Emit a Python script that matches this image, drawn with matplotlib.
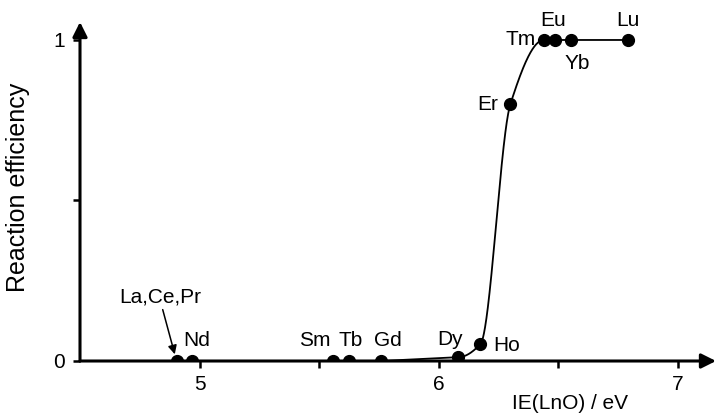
import matplotlib
matplotlib.use("Agg")
from matplotlib import pyplot as plt
import numpy as np

plt.rcParams['font.family'] = ['Liberation Sans', 'DejaVu Sans']

# data
ie = [4.904, 4.97, 5.558, 5.625, 5.758, 6.083, 6.175, 6.30, 6.44, 6.487, 6.555, 6.79]
eff = [0.0, 0.0, 0.0, 0.0, 0.0, 0.012, 0.053, 0.80, 1.0, 1.0, 1.0, 1.0]
names = ['La,Ce,Pr', 'Nd', 'Sm', 'Tb', 'Gd', 'Dy', 'Ho', 'Er', 'Tm', 'Eu', 'Yb', 'Lu']
# label offsets in points (dx, dy)
offsets = [(-12, 46), (3, 15), (-13, 15), (1, 15), (5, 15), (-6, 13), (19, -1),
           (-16, 0), (-16.5, 0), (-1.5, 14), (4, -17), (0, 14)]

# smooth monotone line through the points (Fritsch-Carlson)
def pchip(x, y, xs):
    x = np.asarray(x); y = np.asarray(y)
    h = np.diff(x)
    d = np.diff(y) / h
    m = np.zeros_like(y)
    for k in range(1, len(x) - 1):
        if d[k - 1] * d[k] > 0:
            w1 = 2 * h[k] + h[k - 1]
            w2 = h[k] + 2 * h[k - 1]
            m[k] = (w1 + w2) / (w1 / d[k - 1] + w2 / d[k])
    out = np.empty_like(xs)
    for i, v in enumerate(xs):
        k = min(np.searchsorted(x, v, side='right') - 1, len(x) - 2)
        t = (v - x[k]) / h[k]
        h00 = 2 * t**3 - 3 * t**2 + 1
        h10 = t**3 - 2 * t**2 + t
        h01 = -2 * t**3 + 3 * t**2
        h11 = t**3 - t**2
        out[i] = h00 * y[k] + h10 * h[k] * m[k] + h01 * y[k + 1] + h11 * h[k] * m[k + 1]
    return out

fig = plt.figure(figsize=(7.16, 4.13), dpi=100)
ax = fig.add_axes([80 / 716, 52 / 413, 636 / 716, 339 / 413])
ax.set_xlim(4.5, 7.16)
ax.set_ylim(0, 1.056)

# flat part along the axis, then the smooth rise from Dy on
ax.plot(ie[:6], eff[:6], color='black', lw=1.3, zorder=3)
xs = np.linspace(ie[5], ie[-1], 600)
ax.plot(xs, pchip(ie[5:], eff[5:], xs), color='black', lw=1.3, zorder=3)
ax.plot(ie, eff, 'o', color='black', ms=8.5, zorder=4)

for n, x, y, (dx, dy) in zip(names, ie, eff, offsets):
    ax.annotate(n, xy=(x, y), xytext=(dx, dy), textcoords='offset points',
                ha='center', va='center', fontsize=15)
# arrow to La, Ce, Pr
ax.annotate('', xy=(ie[0], eff[0]), xytext=(-10, 37), textcoords='offset points',
            arrowprops=dict(arrowstyle='-|>', color='black', lw=1.1,
                            shrinkA=0, shrinkB=5, mutation_scale=13))

# axes with arrow heads
for s in ax.spines.values():
    s.set_visible(False)
ax.annotate('', xy=(1.0, 0), xytext=(0, 0), xycoords='axes fraction',
            arrowprops=dict(arrowstyle='-|>', color='black', lw=2.2, mutation_scale=22,
                            shrinkA=0, shrinkB=0), zorder=2)
ax.annotate('', xy=(0, 1.0), xytext=(0, 0), xycoords='axes fraction',
            arrowprops=dict(arrowstyle='-|>', color='black', lw=2.2, mutation_scale=22,
                            shrinkA=0, shrinkB=0), zorder=2)

ax.set_xticks([5, 5.5, 6, 6.5, 7])
ax.set_xticklabels(['5', '', '6', '', '7'])
ax.set_yticks([0, 0.5, 1])
ax.set_yticklabels(['0', '', '1'])
ax.tick_params(direction='out', width=1.8, length=5, labelsize=15, pad=5)
ax.tick_params(axis='y', pad=6)

ax.set_ylabel('Reaction efficiency', fontsize=18, va='center')
ax.yaxis.set_label_coords(-0.097, 0.513)
ax.set_xlabel('IE(LnO) / eV', fontsize=15, va='center')
ax.xaxis.set_label_coords(0.770, -0.124)

fig.savefig('out.png', dpi=100)
